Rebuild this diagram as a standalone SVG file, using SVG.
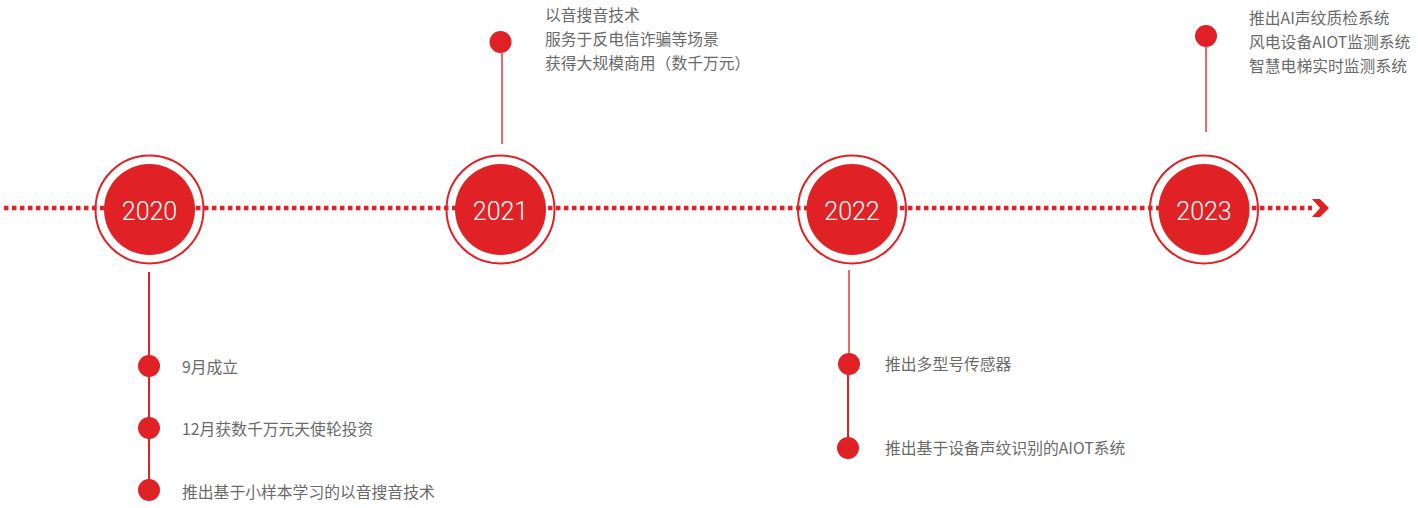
<svg xmlns="http://www.w3.org/2000/svg" width="1418" height="508" viewBox="0 0 1418 508">
<style>
.ring{fill:none;stroke:#e02226;stroke-width:2}
.core{fill:#e02226}
.yr{fill:#fff;font-family:Roboto,"Liberation Sans",sans-serif;font-weight:300;font-size:25px;text-anchor:middle;dominant-baseline:central}
.dot{fill:#e02226}
.vl{stroke:#e02226;stroke-width:2}
.vl2{stroke:#ea6a6c;stroke-width:2}
.t{fill:#6a6a6a;font-family:"Noto Sans CJK SC","Noto Sans",sans-serif;font-size:15.8px;dominant-baseline:central}
</style>
<g id="connectors">
<line x1="4" y1="208" x2="1312" y2="208" stroke="#e02226" stroke-width="4.5" stroke-dasharray="4.5 3.5"/>
<polygon points="1312,199 1320,199 1329,208 1320,217 1312,217 1320,208" fill="#e02226"/>
<line class="vl" x1="149" y1="272" x2="149" y2="490"/>
<line class="vl2" x1="502" y1="50" x2="502" y2="144"/>
<line class="vl2" x1="849" y1="270" x2="849" y2="364"/>
<line class="vl" x1="848" y1="364" x2="848" y2="448"/>
<line class="vl2" x1="1206" y1="44" x2="1206" y2="132"/>
</g>
<g id="y2020">
<circle class="ring" cx="149.5" cy="209.5" r="54"/>
<circle class="core" cx="149.5" cy="209.5" r="45.5"/>
<text class="yr" x="149.5" y="211">2020</text>
</g>
<g id="y2021">
<circle class="ring" cx="500.5" cy="209.5" r="54"/>
<circle class="core" cx="500.5" cy="209.5" r="45.5"/>
<text class="yr" x="500.5" y="211">2021</text>
</g>
<g id="y2022">
<circle class="ring" cx="852" cy="209.5" r="54"/>
<circle class="core" cx="852" cy="209.5" r="45.5"/>
<text class="yr" x="852" y="211">2022</text>
</g>
<g id="y2023">
<circle class="ring" cx="1204" cy="209.5" r="54"/>
<circle class="core" cx="1204" cy="209.5" r="45.5"/>
<text class="yr" x="1204" y="211">2023</text>
</g>
<g id="e2020a"><circle class="dot" cx="149" cy="366" r="11"/><text class="t" x="182" y="366">9月成立</text></g>
<g id="e2020b"><circle class="dot" cx="149" cy="428" r="11"/><text class="t" x="182" y="428">12月获数千万元天使轮投资</text></g>
<g id="e2020c"><circle class="dot" cx="149" cy="490" r="11"/><text class="t" x="182" y="491">推出基于小样本学习的以音搜音技术</text></g>
<g id="e2021"><circle class="dot" cx="500.5" cy="42" r="11"/>
<text class="t" x="545" y="14">以音搜音技术</text>
<text class="t" x="545" y="38">服务于反电信诈骗等场景</text>
<text class="t" x="545" y="62">获得大规模商用（数千万元）</text></g>
<g id="e2022a"><circle class="dot" cx="849" cy="364" r="11"/><text class="t" x="885" y="363">推出多型号传感器</text></g>
<g id="e2022b"><circle class="dot" cx="848" cy="448" r="11"/><text class="t" x="885" y="447">推出基于设备声纹识别的AIOT系统</text></g>
<g id="e2023"><circle class="dot" cx="1206" cy="36" r="11"/>
<text class="t" x="1249" y="17">推出AI声纹质检系统</text>
<text class="t" x="1249" y="41">风电设备AIOT监测系统</text>
<text class="t" x="1249" y="65">智慧电梯实时监测系统</text></g>
</svg>
